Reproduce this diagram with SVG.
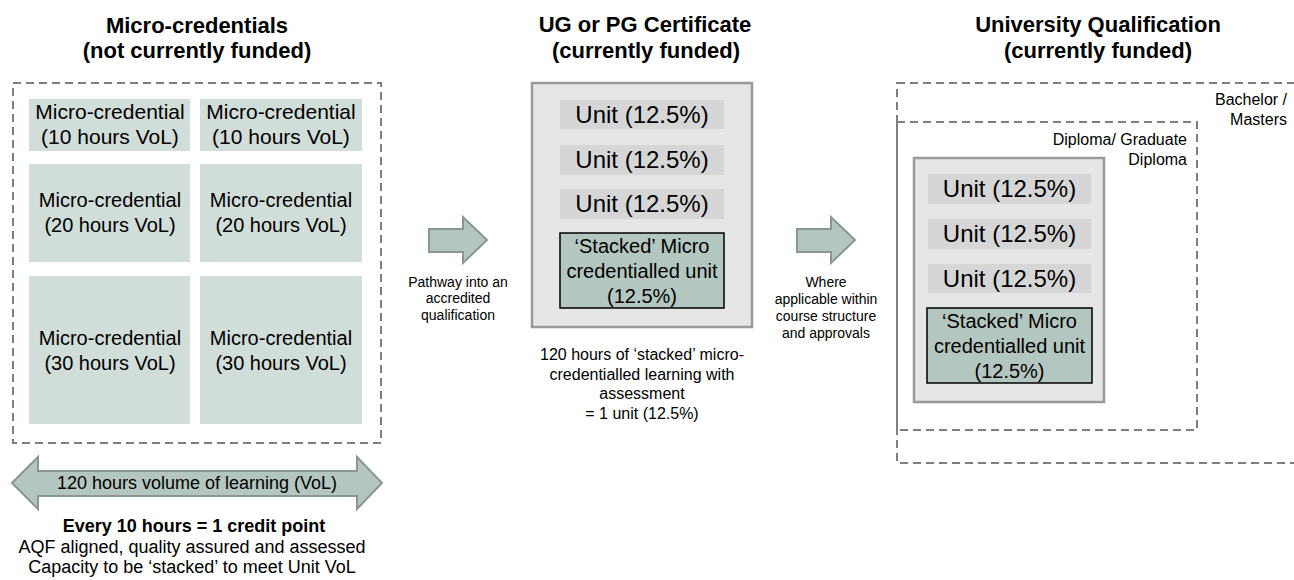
<svg xmlns="http://www.w3.org/2000/svg" width="1294" height="580" viewBox="0 0 1294 580">
<style>
text{font-family:"Liberation Sans",Arial,sans-serif;fill:#000}
.title{font-size:22px;font-weight:bold;text-anchor:middle}
.mc{font-size:20px;text-anchor:middle}
.unit{font-size:24px;text-anchor:middle}
.stk{font-size:20px;text-anchor:middle}
.sm{font-size:14px;text-anchor:middle}
.lbl{font-size:16px;text-anchor:end}
.note{font-size:16px;text-anchor:middle}
.foot{font-size:18px;text-anchor:middle}
.dash{fill:none;stroke:#7f7f7f;stroke-width:2;stroke-dasharray:8,5}
.cell{fill:#d0ddd8}
.ubox{fill:#d6d6d6}
.sbox{fill:#b3c6bf;stroke:#000;stroke-width:1.5}
.gbox{fill:#e6e6e6;stroke:#999;stroke-width:2.5}
.arrow{fill:#b3c6bf;stroke:#8a9691;stroke-width:2}
</style>

<g id="titles">
<text class="title" x="197" y="33">Micro-credentials</text>
<text class="title" x="197" y="58">(not currently funded)</text>
<text class="title" x="645" y="32">UG or PG Certificate</text>
<text class="title" x="646" y="58">(currently funded)</text>
<text class="title" x="1098" y="32">University Qualification</text>
<text class="title" x="1098" y="58">(currently funded)</text>
</g>

<g id="micro-credentials">
<rect x="13" y="83" width="368" height="360" fill="#efefef" class="dash"/>
<rect class="cell" x="29" y="99" width="161" height="52"/>
<rect class="cell" x="200" y="99" width="162" height="52"/>
<rect class="cell" x="29" y="164" width="161" height="98"/>
<rect class="cell" x="200" y="164" width="162" height="98"/>
<rect class="cell" x="29" y="276" width="161" height="148"/>
<rect class="cell" x="200" y="276" width="162" height="148"/>
<text class="mc" x="110" y="119" style="font-size:21px">Micro-credential</text>
<text class="mc" x="110" y="144" style="font-size:21px">(10 hours VoL)</text>
<text class="mc" x="281" y="119" style="font-size:21px">Micro-credential</text>
<text class="mc" x="281" y="144" style="font-size:21px">(10 hours VoL)</text>
<text class="mc" x="110" y="207">Micro-credential</text>
<text class="mc" x="110" y="232">(20 hours VoL)</text>
<text class="mc" x="281" y="207">Micro-credential</text>
<text class="mc" x="281" y="232">(20 hours VoL)</text>
<text class="mc" x="110" y="345">Micro-credential</text>
<text class="mc" x="110" y="370">(30 hours VoL)</text>
<text class="mc" x="281" y="345">Micro-credential</text>
<text class="mc" x="281" y="370">(30 hours VoL)</text>
</g>

<g id="vol-arrow">
<polygon class="arrow" points="12,483 38,457 38,471 357,471 357,457 382,483 357,509 357,496 38,496 38,509"/>
<text class="foot" x="197" y="489">120 hours volume of learning (VoL)</text>
</g>

<g id="micro-notes">
<text class="foot" x="194" y="532" font-weight="bold">Every 10 hours = 1 credit point</text>
<text class="foot" x="192" y="553">AQF aligned, quality assured and assessed</text>
<text class="foot" x="192" y="573">Capacity to be ‘stacked’ to meet Unit VoL</text>
</g>

<g id="connectors">
<polygon class="arrow" points="429,229 463,229 463,217 487,240 463,263 463,252 429,252"/>
<polygon class="arrow" points="797,229 831,229 831,217 855,240 831,263 831,252 797,252"/>
<text class="sm" x="458" y="287">Pathway into an</text>
<text class="sm" x="458" y="303">accredited</text>
<text class="sm" x="458" y="320">qualification</text>
<text class="sm" x="826" y="287">Where</text>
<text class="sm" x="826" y="304">applicable within</text>
<text class="sm" x="826" y="321">course structure</text>
<text class="sm" x="826" y="338">and approvals</text>
</g>

<g id="certificate">
<rect class="gbox" x="532" y="83" width="220" height="244"/>
<rect class="ubox" x="560" y="100" width="164" height="29"/>
<rect class="ubox" x="560" y="145" width="164" height="30"/>
<rect class="ubox" x="560" y="189" width="164" height="30"/>
<text class="unit" x="642" y="123">Unit (12.5%)</text>
<text class="unit" x="642" y="168">Unit (12.5%)</text>
<text class="unit" x="642" y="212">Unit (12.5%)</text>
<rect class="sbox" x="560" y="233" width="164" height="75"/>
<text class="stk" x="642" y="253">‘Stacked’ Micro</text>
<text class="stk" x="642" y="278">credentialled unit</text>
<text class="stk" x="642" y="303">(12.5%)</text>
<text class="note" x="642" y="360">120 hours of ‘stacked’ micro-</text>
<text class="note" x="642" y="380">credentialled learning with</text>
<text class="note" x="642" y="399">assessment</text>
<text class="note" x="642" y="419">= 1 unit (12.5%)</text>
</g>

<g id="bachelor-masters">
<rect class="dash" x="897" y="83" width="420" height="380"/>
<text class="lbl" x="1287" y="105">Bachelor /</text>
<text class="lbl" x="1287" y="125">Masters</text>
</g>

<g id="diploma">
<rect class="dash" x="897" y="122" width="300" height="308"/>
<text class="lbl" x="1187" y="145">Diploma/ Graduate</text>
<text class="lbl" x="1187" y="165">Diploma</text>
</g>

<g id="qualification-units">
<rect class="gbox" x="914" y="158" width="190" height="244"/>
<rect class="ubox" x="928" y="174" width="163" height="30"/>
<rect class="ubox" x="928" y="219" width="163" height="30"/>
<rect class="ubox" x="928" y="264" width="163" height="29"/>
<text class="unit" x="1009.5" y="197">Unit (12.5%)</text>
<text class="unit" x="1009.5" y="242">Unit (12.5%)</text>
<text class="unit" x="1009.5" y="287">Unit (12.5%)</text>
<rect class="sbox" x="927" y="308" width="165" height="75"/>
<text class="stk" x="1009.5" y="328">‘Stacked’ Micro</text>
<text class="stk" x="1009.5" y="353">credentialled unit</text>
<text class="stk" x="1009.5" y="378">(12.5%)</text>
</g>
</svg>
